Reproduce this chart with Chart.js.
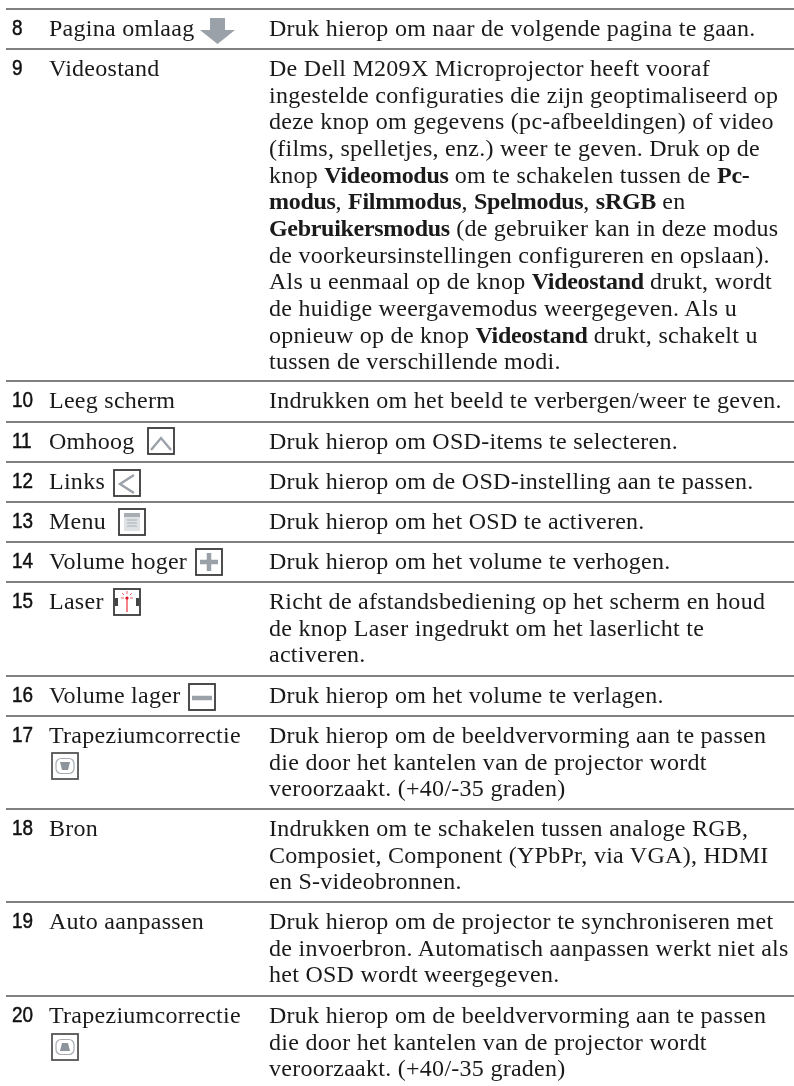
<!DOCTYPE html>
<html lang="nl">
<head>
<meta charset="UTF-8">
<title>Afstandsbediening</title>
<script src="https://cdn.jsdelivr.net/npm/chart.js"></script>
<style>
  html, body { margin: 0; padding: 0; background: #fff; }
  body { position: relative; width: 794px; height: 1086px; overflow: hidden; }
  #rules { position: absolute; left: 0; top: 0; }
  .t { position: absolute; white-space: nowrap; font-family: "Liberation Serif", serif; font-size: 24px; line-height: 26px; color: #1a1a1a; letter-spacing: 0.27px; }
  .t b { letter-spacing: -0.3px; }
  .n { position: absolute; white-space: nowrap; font-family: "Liberation Sans", sans-serif; font-size: 22.5px; line-height: 26px; color: #111; -webkit-text-stroke: 0.5px #111; transform: scaleX(0.84); transform-origin: left center; }
  svg.icon { position: absolute; }
</style>
</head>
<body>
<canvas id="rules" width="794" height="1086"></canvas>
<div id="page"></div>
<script>
// rule positions, from the top of the page
const ruleEdges = [9, 49, 381, 422, 462, 502, 542, 582, 676, 716, 809, 902, 996];

const rowNumbers = ["8", "9", "10", "11", "12", "13", "14", "15", "16", "17", "18", "19", "20"];
const rowLabels = ["Pagina omlaag", "Videostand", "Leeg scherm", "Omhoog", "Links", "Menu", "Volume hoger",
  "Laser", "Volume lager", "Trapeziumcorrectie", "Bron", "Auto aanpassen", "Trapeziumcorrectie"];
const rowTexts = [
  ["Druk hierop om naar de volgende pagina te gaan."],
  ["De Dell M209X Microprojector heeft vooraf",
   "ingestelde configuraties die zijn geoptimaliseerd op",
   "deze knop om gegevens (pc-afbeeldingen) of video",
   "(films, spelletjes, enz.) weer te geven. Druk op de",
   "knop <b>Videomodus</b> om te schakelen tussen de <b>Pc-</b>",
   "<b>modus</b>, <b>Filmmodus</b>, <b>Spelmodus</b>, <b>sRGB</b> en",
   "<b>Gebruikersmodus</b> (de gebruiker kan in deze modus",
   "de voorkeursinstellingen configureren en opslaan).",
   "Als u eenmaal op de knop <b>Videostand</b> drukt, wordt",
   "de huidige weergavemodus weergegeven. Als u",
   "opnieuw op de knop <b>Videostand</b> drukt, schakelt u",
   "tussen de verschillende modi."],
  ["Indrukken om het beeld te verbergen/weer te geven."],
  ["Druk hierop om OSD-items te selecteren."],
  ["Druk hierop om de OSD-instelling aan te passen."],
  ["Druk hierop om het OSD te activeren."],
  ["Druk hierop om het volume te verhogen."],
  ["Richt de afstandsbediening op het scherm en houd",
   "de knop Laser ingedrukt om het laserlicht te",
   "activeren."],
  ["Druk hierop om het volume te verlagen."],
  ["Druk hierop om de beeldvervorming aan te passen",
   "die door het kantelen van de projector wordt",
   "veroorzaakt. (+40/-35 graden)"],
  ["Indrukken om te schakelen tussen analoge RGB,",
   "Composiet, Component (YPbPr, via VGA), HDMI",
   "en S-videobronnen."],
  ["Druk hierop om de projector te synchroniseren met",
   "de invoerbron. Automatisch aanpassen werkt niet als",
   "het OSD wordt weergegeven."],
  ["Druk hierop om de beeldvervorming aan te passen",
   "die door het kantelen van de projector wordt",
   "veroorzaakt. (+40/-35 graden)"]
];

// horizontal rules are drawn by the chart, one dataset per edge
new Chart(document.getElementById("rules"), {
  type: "scatter",
  data: {
    datasets: ruleEdges.map(edge => ({
      data: [{ x: 6, y: edge }, { x: 794, y: edge }],
      showLine: true,
      borderColor: "#808080",
      borderWidth: 2,
      pointRadius: 0
    }))
  },
  options: {
    responsive: false,
    animation: false,
    layout: { padding: 0 },
    plugins: { legend: { display: false }, tooltip: { enabled: false } },
    scales: {
      x: { type: "linear", min: 0, max: 794, display: false },
      y: { type: "linear", min: 0, max: 1086, reverse: true, display: false }
    }
  }
});

// text rows
const page = document.getElementById("page");
const LINE_STEP = 26.65;
function addText(cls, x, top, html) {
  const el = document.createElement("div");
  el.className = cls;
  el.style.left = x + "px";
  el.style.top = top + "px";
  el.innerHTML = html;
  page.appendChild(el);
}
rowNumbers.forEach((num, i) => {
  const top = ruleEdges[i] + 6;
  addText("n", 12, top, num);
  addText("t", 49, top, rowLabels[i]);
  rowTexts[i].forEach((line, j) => addText("t", 269, top + j * LINE_STEP, line));
});

// little button pictures
function icon(x, y, w, h, inner) {
  page.insertAdjacentHTML("beforeend",
    `<svg class="icon" style="left:${x}px;top:${y}px" width="${w}" height="${h}" viewBox="0 0 ${w} ${h}">${inner}</svg>`);
}
const box = '<rect x="1" y="1" width="26" height="26" fill="#fff" stroke="#3a3a3a" stroke-width="1.8"/>';
const grey = "#9aa1a8";
icon(200, 18, 35, 26, `<path d="M10 0h15v12h10L17.5 26 0 12h10z" fill="${grey}"/>`);
icon(147, 427, 28, 28, box + `<path d="M4 23L14 11l10 12" fill="none" stroke="${grey}" stroke-width="2.4"/>`);
icon(113, 469, 28, 28, box + `<path d="M21 6L7 15l14 9" fill="none" stroke="${grey}" stroke-width="2.4"/>`);
icon(118, 508, 28, 28, box + `<rect x="6" y="5" width="16" height="18" fill="#dfe2e5"/><rect x="6" y="5" width="16" height="4" fill="#a8adb3"/><path d="M9 12h10M9 15h10M9 18h10" stroke="#a8adb3" stroke-width="1"/>`);
icon(195, 548, 28, 28, box + `<path d="M14 5v18M5 14h18" stroke="${grey}" stroke-width="4.5"/>`);
icon(113, 588, 28, 28, box + `<rect x="2" y="10" width="3" height="8" fill="#444"/><rect x="23" y="10" width="3" height="8" fill="#444"/><path d="M14 10v14" stroke="#f0303a" stroke-width="1.2"/><circle cx="14" cy="10" r="1.6" fill="#e01020"/><path d="M8 10h3M17 10h3M9 5l2 2M19 5l-2 2M14 3v3" stroke="#f0606a" stroke-width="1"/>`);
icon(188, 683, 28, 28, box + `<path d="M4 15h20" stroke="${grey}" stroke-width="4.5"/>`);
const tv = '<rect x="5" y="6.5" width="18" height="15" rx="5" fill="#fff" stroke="#a8adb3" stroke-width="1.2"/>';
icon(51, 752, 28, 28, box.replace("#3a3a3a", "#555") + tv + `<path d="M9 10h10l-2 8h-6z" fill="#8d949b"/>`);
icon(51, 1033, 28, 28, box.replace("#3a3a3a", "#555") + tv + `<path d="M11 10h6l2 8H9z" fill="#8d949b"/>`);
</script>
</body>
</html>
